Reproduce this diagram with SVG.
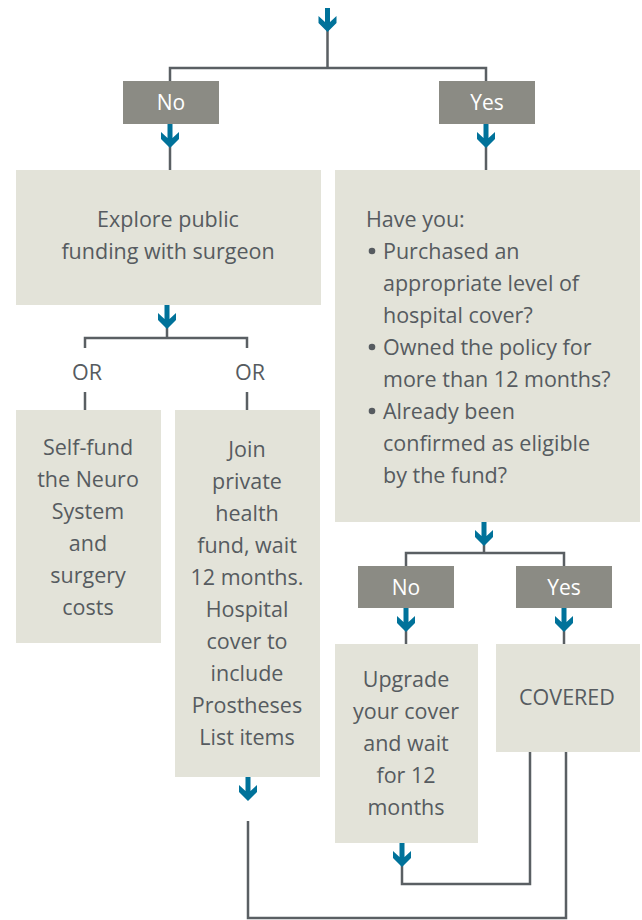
<svg xmlns="http://www.w3.org/2000/svg" width="642" height="920" viewBox="0 0 642 920">
<defs>
<style>
.box{fill:#e3e3d9}
.lab{fill:#8b8b84}
.t{font-family:"Open Sans","Noto Sans",sans-serif;font-size:21.5px;fill:#565b60}
.c{text-anchor:middle}
.w{fill:#ffffff;font-size:21px}
.ln{fill:none;stroke:#5a5f63;stroke-width:2.5}
.ar{fill:#00729a}
</style>
<polygon id="arr" points="-2.5,0 2.5,0 2.5,14 9,8 9,15 0,24 -9,15 -9,8 -2.5,14"/>
</defs>
<g id="connectors">
<path class="ln" d="M327.5,20 V68 M170,81 V68 H486 V81"/>
<path class="ln" d="M170,124 V170 M486,124 V170"/>
<path class="ln" d="M167,305 V338 M85,348 V338 H247 V348 M85,392 V410 M247,392 V410"/>
<path class="ln" d="M484,522 V553 M406,566 V553 H564 V566 M406,608 V644 M564,608 V644"/>
<path class="ln" d="M248,821 V918 H566 V752 M530,752 V884 H402 V843"/>
<use href="#arr" class="ar" x="327.5" y="8"/>
<use href="#arr" class="ar" x="170" y="124"/>
<use href="#arr" class="ar" x="486" y="124"/>
<use href="#arr" class="ar" x="167" y="305"/>
<use href="#arr" class="ar" x="484" y="522"/>
<use href="#arr" class="ar" x="406" y="608"/>
<use href="#arr" class="ar" x="564" y="608"/>
<use href="#arr" class="ar" x="248" y="777"/>
<use href="#arr" class="ar" x="402" y="843"/>
</g>
<g id="no1"><rect class="lab" x="123" y="81" width="96" height="43"/><text class="t w c" x="171" y="110">No</text></g>
<g id="yes1"><rect class="lab" x="439" y="81" width="96" height="43"/><text class="t w c" x="487" y="110">Yes</text></g>
<g id="explore"><rect class="box" x="16" y="170" width="305" height="135"/>
<text class="t c" x="168"><tspan x="168" y="227">Explore public</tspan><tspan x="168" y="259">funding with surgeon</tspan></text></g>
<g id="haveyou"><rect class="box" x="335" y="170" width="305" height="352"/>
<text class="t"><tspan x="366" y="227">Have you:</tspan><tspan x="383" y="259">Purchased an</tspan><tspan x="383" y="291">appropriate level of</tspan><tspan x="383" y="323">hospital cover?</tspan><tspan x="383" y="355">Owned the policy for</tspan><tspan x="383" y="387">more than 12 months?</tspan><tspan x="383" y="419">Already been</tspan><tspan x="383" y="451">confirmed as eligible</tspan><tspan x="383" y="483">by the fund?</tspan></text>
<circle cx="372" cy="251" r="3.3" fill="#565b60"/><circle cx="372" cy="347" r="3.3" fill="#565b60"/><circle cx="372" cy="411" r="3.3" fill="#565b60"/></g>
<g id="or1"><text class="t c" x="87" y="380">OR</text></g>
<g id="or2"><text class="t c" x="250" y="380">OR</text></g>
<g id="selffund"><rect class="box" x="16" y="410" width="145" height="233"/>
<text class="t c"><tspan x="88" y="455">Self-fund</tspan><tspan x="88" y="487">the Neuro</tspan><tspan x="88" y="519">System</tspan><tspan x="88" y="551">and</tspan><tspan x="88" y="583">surgery</tspan><tspan x="88" y="615">costs</tspan></text></g>
<g id="join"><rect class="box" x="175" y="410" width="145" height="367"/>
<text class="t c"><tspan x="247" y="457">Join</tspan><tspan x="247" y="489">private</tspan><tspan x="247" y="521">health</tspan><tspan x="247" y="553">fund, wait</tspan><tspan x="247" y="585">12 months.</tspan><tspan x="247" y="617">Hospital</tspan><tspan x="247" y="649">cover to</tspan><tspan x="247" y="681">include</tspan><tspan x="247" y="713">Prostheses</tspan><tspan x="247" y="745">List items</tspan></text></g>
<g id="no2"><rect class="lab" x="358" y="566" width="96" height="42"/><text class="t w c" x="406" y="595">No</text></g>
<g id="yes2"><rect class="lab" x="516" y="566" width="96" height="42"/><text class="t w c" x="564" y="595">Yes</text></g>
<g id="upgrade"><rect class="box" x="335" y="644" width="143" height="199"/>
<text class="t c"><tspan x="406" y="687">Upgrade</tspan><tspan x="406" y="719">your cover</tspan><tspan x="406" y="751">and wait</tspan><tspan x="406" y="783">for 12</tspan><tspan x="406" y="815">months</tspan></text></g>
<g id="covered"><rect class="box" x="496" y="644" width="144" height="108"/><text class="t c" x="567" y="705">COVERED</text></g>
</svg>
